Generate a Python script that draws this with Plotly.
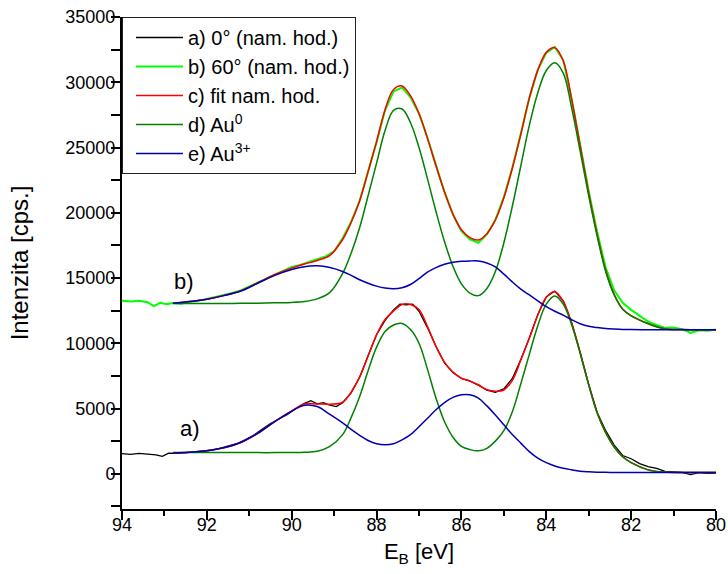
import plotly.graph_objects as go

# ---------------- data ----------------
E_fit = [92.8, 92.4, 92.0, 91.6, 91.2, 90.8, 90.4, 90.0, 89.7, 89.4, 89.1,
         88.8, 88.6, 88.4, 88.2, 88.0, 87.8, 87.6, 87.4, 87.2, 87.0, 86.8,
         86.6, 86.4, 86.2, 86.0, 85.8, 85.6, 85.4, 85.2, 85.0, 84.8, 84.6,
         84.4, 84.2, 84.0, 83.8, 83.6, 83.4, 83.2, 83.0, 82.8, 82.6, 82.4,
         82.2, 82.0, 81.6, 81.2, 80.8, 80.4, 80.0]

# spectrum b) 60 deg
au0_b = [13050, 13050, 13050, 13050, 13060, 13070, 13100, 13130, 13200, 13400, 13900,
         15350, 16900, 18850, 21300, 23800, 26300, 27850, 27950, 26900, 25000, 22600,
         20100, 17800, 15900, 14550, 13850, 13650, 14200, 15500, 17700, 20500, 23600,
         26700, 29200, 30900, 31500, 30700, 28000, 24700, 21300, 18200, 15500, 13700,
         12600, 12100, 11500, 11100, 11050, 11030, 11030]
au3_b = [13070, 13200, 13380, 13650, 14000, 14600, 15200, 15650, 15870, 15930, 15800,
         15500, 15200, 14870, 14600, 14380, 14230, 14170, 14250, 14500, 14950, 15450,
         15800, 16050, 16200, 16280, 16310, 16300, 16150, 15850, 15300, 14700, 14150,
         13700, 13250, 12800, 12450, 12150, 11800, 11500, 11300, 11200, 11130, 11090,
         11060, 11050, 11040, 11035, 11030, 11030, 11030]
fit_b = [13070, 13200, 13380, 13655, 14020, 14635, 15270, 15760, 16070, 16340, 16740,
         17950, 19250, 20900, 23150, 25450, 27900, 29450, 29720, 28950, 27600, 25700,
         23600, 21600, 19900, 18700, 18100, 17920, 18400, 19450, 21150, 23410, 26030,
         28780, 30930, 32290, 32650, 31630, 28650, 25100, 21530, 18345, 15590, 13755,
         12630, 12120, 11510, 11105, 11050, 11030, 11030]

# spectrum a) 0 deg
au0_a = [1620, 1620, 1620, 1620, 1620, 1620, 1620, 1630, 1650, 1720, 2100,
         3000, 4300, 5900, 7900, 9700, 10900, 11400, 11520, 11050, 10000, 8000,
         5800, 4000, 2800, 2100, 1850, 1760, 1950, 2500, 3300, 4750, 6900,
         9150, 11350, 13000, 13620, 13000, 11400, 9200, 6800, 4650, 3150, 2050,
         1300, 850, 300, 130, 100, 100, 100]
au3_a = [1600, 1650, 1770, 2000, 2400, 3100, 4000, 4800, 5250, 5150, 4550,
         3900, 3400, 2950, 2550, 2300, 2220, 2300, 2600, 3000, 3600, 4250,
         4900, 5450, 5850, 6050, 6050, 5800, 5200, 4500, 3750, 3000, 2350,
         1700, 1200, 850, 600, 420, 300, 200, 150, 120, 110, 100,
         100, 100, 100, 100, 100, 100, 100]
fit_a = [1600, 1650, 1770, 2000, 2400, 3100, 4000, 4820, 5350, 5350, 5330,
         5480, 6250, 7400, 9030, 10640, 11820, 12470, 12970, 12970, 12580, 11280,
         9770, 8550, 7790, 7320, 7120, 6820, 6450, 6330, 6420, 7160, 8710,
         10380, 12150, 13520, 13950, 13210, 11530, 9260, 6830, 4660, 3155, 2050,
         1300, 850, 300, 130, 100, 100, 100]

E_data_a = [94.0, 93.8, 93.6, 93.4, 93.2, 93.05, 92.9, 92.7, 92.5, 92.3,
            92.1, 91.9, 91.7, 91.5, 91.3, 91.1, 90.9, 90.7, 90.5, 90.3,
            90.1, 89.9, 89.7, 89.55, 89.4, 89.25, 89.1, 88.95, 88.8, 88.6,
            88.4, 88.2, 88.0, 87.8, 87.6, 87.45, 87.3, 87.15, 87.0, 86.8,
            86.6, 86.4, 86.2, 86.0, 85.8, 85.6, 85.4, 85.2, 85.0, 84.8,
            84.6, 84.4, 84.2, 84.0, 83.8, 83.6, 83.4, 83.2, 83.0, 82.8,
            82.6, 82.4, 82.2, 82.0, 81.8, 81.6, 81.4, 81.2, 81.0, 80.8,
            80.6, 80.4, 80.2, 80.0]
data_a = [1550, 1480, 1560, 1520, 1450, 1330, 1580, 1560, 1620, 1630,
          1720, 1800, 1950, 2100, 2300, 2600, 2950, 3400, 3850, 4200,
          4550, 5000, 5400, 5600, 5350, 5450, 5250, 5150, 5450, 6200,
          7400, 9050, 10650, 11750, 12550, 13000, 12950, 13000, 12450, 11200,
          9750, 8500, 7750, 7300, 7100, 6780, 6400, 6250, 6500, 7300,
          8750, 10400, 12200, 13550, 14000, 13250, 11550, 9300, 6850, 4700,
          3300, 2200, 1400, 1150, 780, 550, 420, 180, 150, 100,
          -60, 80, 40, 60]

E_data_b = [94.0, 93.8, 93.6, 93.4, 93.25, 93.1, 92.95, 92.8, 92.6, 92.4,
            92.2, 92.0, 91.8, 91.6, 91.4, 91.2, 91.0, 90.8, 90.6, 90.4,
            90.2, 90.0, 89.8, 89.6, 89.4, 89.2, 89.0, 88.8, 88.6, 88.4,
            88.2, 88.0, 87.8, 87.6, 87.4, 87.2, 87.0, 86.8, 86.6, 86.4,
            86.2, 86.0, 85.8, 85.6, 85.4, 85.2, 85.0, 84.8, 84.6, 84.4,
            84.2, 84.0, 83.8, 83.6, 83.4, 83.2, 83.0, 82.8, 82.6, 82.4,
            82.2, 82.0, 81.8, 81.6, 81.4, 81.2, 81.0, 80.8, 80.6, 80.4,
            80.2, 80.0]
data_b = [13250, 13200, 13260, 13150, 12850, 13100, 13000, 13080, 13020, 13180,
          13250, 13400, 13500, 13700, 13850, 14050, 14350, 14700, 14950, 15300,
          15600, 15850, 16000, 16250, 16450, 16650, 17050, 18050, 19300, 20900,
          23100, 25400, 27850, 29300, 29600, 28850, 27600, 25750, 23650, 21600,
          19850, 18600, 17950, 17700, 18350, 19450, 21200, 23450, 26050, 28800,
          30950, 32250, 32700, 31700, 28700, 25200, 21650, 18500, 15800, 14050,
          13100, 12560, 12100, 11660, 11400, 11180, 11200, 11080, 10800, 11000,
          10950, 11050]

legend_names = ["a) 0° (nam. hod.)", "b) 60° (nam. hod.)", "c) fit nam. hod.",
                "d) Au<sup>0</sup>", "e) Au<sup>3+</sup>"]
x_tick_vals = [94, 92, 90, 88, 86, 84, 82, 80]
y_tick_vals = [0, 5000, 10000, 15000, 20000, 25000, 30000, 35000]

# ---------------- styles ----------------
C_A = "#000000"
C_B = "#00ff00"
C_FIT = "#ff0000"
C_AU0 = "#008000"
C_AU3 = "#0000b0"
FONT = "Liberation Sans, Arial, sans-serif"

fig = go.Figure()
fig.add_trace(go.Scatter(x=E_data_a, y=data_a, mode="lines", name=legend_names[0],
                         line=dict(color=C_A, width=1.3)))
fig.add_trace(go.Scatter(x=E_data_b, y=data_b, mode="lines", name=legend_names[1],
                         line=dict(color=C_B, width=2)))
fig.add_trace(go.Scatter(x=E_fit, y=fit_a, mode="lines", name=legend_names[2],
                         legendgroup="fit", line=dict(color=C_FIT, width=1.5, shape="spline")))
fig.add_trace(go.Scatter(x=E_fit, y=fit_b, mode="lines", name=legend_names[2],
                         legendgroup="fit", showlegend=False,
                         line=dict(color=C_FIT, width=1.5, shape="spline")))
fig.add_trace(go.Scatter(x=E_fit, y=au0_a, mode="lines", name=legend_names[3],
                         legendgroup="au0", line=dict(color=C_AU0, width=1.5, shape="spline")))
fig.add_trace(go.Scatter(x=E_fit, y=au0_b, mode="lines", name=legend_names[3],
                         legendgroup="au0", showlegend=False,
                         line=dict(color=C_AU0, width=1.5, shape="spline")))
fig.add_trace(go.Scatter(x=E_fit, y=au3_a, mode="lines", name=legend_names[4],
                         legendgroup="au3", line=dict(color=C_AU3, width=1.5, shape="spline")))
fig.add_trace(go.Scatter(x=E_fit, y=au3_b, mode="lines", name=legend_names[4],
                         legendgroup="au3", showlegend=False,
                         line=dict(color=C_AU3, width=1.5, shape="spline")))

XR = [94, 80]
YR = [-2700, 35000]

fig.update_layout(
    width=728, height=574,
    margin=dict(l=122, r=12, t=17, b=65, autoexpand=False),
    paper_bgcolor="white", plot_bgcolor="white",
    font=dict(family=FONT, size=18, color="black"),
    showlegend=True,
    legend=dict(x=0, y=1, xanchor="left", yanchor="top",
                bgcolor="white", bordercolor="#222222", borderwidth=1,
                font=dict(family=FONT, size=20, color="black"),
                tracegroupgap=0, itemwidth=47, indentation=8),
    xaxis=dict(range=XR, tickvals=x_tick_vals, ticks="outside", ticklen=9, tickwidth=1.5,
               tickcolor="black", showline=True, linewidth=2, linecolor="black",
               showgrid=False, zeroline=False, automargin=False, ticklabelstandoff=-11,
               minor=dict(dtick=1, tick0=80, ticks="outside", ticklen=5, tickwidth=1.5,
                          tickcolor="black", showgrid=False),
               tickfont=dict(size=18),
               title=dict(text="E<sub>B</sub> [eV]", font=dict(size=22), standoff=10)),
    yaxis=dict(range=YR, tickvals=y_tick_vals, tickformat="d", ticks="outside", ticklen=9,
               tickwidth=1.5, tickcolor="black", showline=True, linewidth=2, linecolor="black",
               showgrid=False, zeroline=False, automargin=False, ticklabelstandoff=-8,
               minor=dict(dtick=2500, tick0=0, ticks="outside", ticklen=9, tickwidth=1.5,
                          tickcolor="black", showgrid=False),
               tickfont=dict(size=18),
               title=dict(text="Intenzita [cps.]", font=dict(size=24), standoff=30)),
    xaxis2=dict(range=XR, overlaying="x", side="top", anchor="y", showticklabels=False,
                ticks="inside", dtick=1, tick0=80, ticklen=4, tickwidth=1, tickcolor="black",
                showline=True, linewidth=1.5, linecolor="black", showgrid=False,
                zeroline=False, automargin=False),
    yaxis2=dict(range=YR, overlaying="y", side="right", anchor="x", showticklabels=False,
                ticks="inside", dtick=2500, tick0=0, ticklen=4, tickwidth=1, tickcolor="black",
                showline=True, linewidth=2, linecolor="black", showgrid=False,
                zeroline=False, automargin=False),
    annotations=[
        dict(x=92.53, y=14740, xref="x", yref="y", text="b)", showarrow=False,
             font=dict(family=FONT, size=22, color="black")),
        dict(x=92.4, y=3450, xref="x", yref="y", text="a)", showarrow=False,
             font=dict(family=FONT, size=22, color="black")),
    ],
)

fig.write_html("out.html", config={"displayModeBar": False})
